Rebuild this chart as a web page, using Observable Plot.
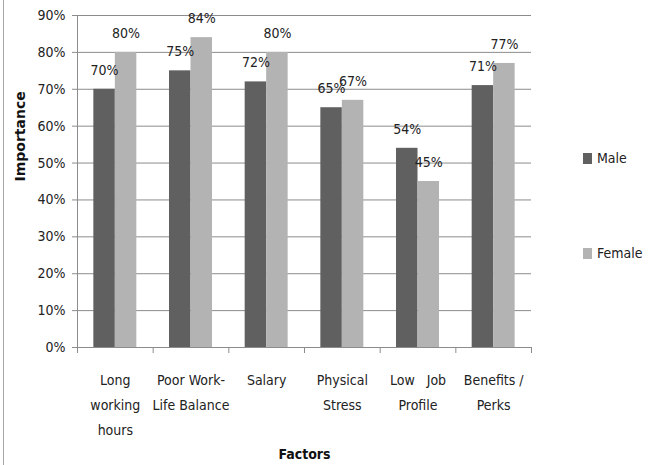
<!DOCTYPE html>
<html>
<head>
<meta charset="utf-8">
<script src="https://cdn.jsdelivr.net/npm/d3@7"></script>
<script src="https://cdn.jsdelivr.net/npm/@observablehq/plot@0.6"></script>
<style>
  html, body { margin: 0; padding: 0; background: #fff; }
  #wrap { position: relative; width: 655px; height: 465px; overflow: hidden; }
  #edge { position: absolute; left: 3px; top: 0; width: 1px; height: 465px; background: #a8a8a8; }
  .leg { position: absolute; left: 583px; font-family: "DejaVu Sans Condensed", "Liberation Sans", sans-serif; font-size: 14px; color: #222; display: flex; align-items: center; }
  .leg i { display: inline-block; width: 9px; height: 11px; margin-right: 5px; }
  g[aria-label="y-axis tick"], g[aria-label="x-axis tick"], .tick line { stroke: #8c8c8c; }
</style>
</head>
<body>
<div id="wrap"><div id="edge"></div></div>
<script>
const categories = ["Long\nworking\nhours", "Poor Work-\nLife Balance", "Salary", "Physical\nStress", "Low   Job\nProfile", "Benefits /\nPerks"];
const male = [70, 75, 72, 65, 54, 71];
const female = [80, 84, 80, 67, 45, 77];
const series = ["Male", "Female"];
const colors = ["#606060", "#b3b3b3"];
const yTicks = [0, 10, 20, 30, 40, 50, 60, 70, 80, 90];
const yTitle = "Importance";
const xTitle = "Factors";

const data = categories.map((c, i) => ({i, category: c, male: male[i], female: female[i]}));
const barW = 0.284;
const narrow = '"DejaVu Sans Condensed", "Liberation Sans", sans-serif';

const chart = Plot.plot({
  width: 655,
  height: 465,
  marginLeft: 77,
  marginRight: 124,
  marginTop: 15,
  marginBottom: 118,
  style: {fontFamily: narrow, fontSize: "14px", color: "#222", background: "#fff", overflow: "visible"},
  x: {domain: [0, categories.length], ticks: d3.range(categories.length + 1), tickFormat: () => "", tickSize: 6, label: null},
  y: {domain: [0, 90], ticks: yTicks, tickFormat: d => d + "%", tickSize: 5, tickPadding: 7, label: null},
  marks: [
    Plot.ruleY(yTicks, {stroke: "#8c8c8c", strokeWidth: 1}),
    Plot.rectY(data, {x1: d => d.i + 0.5 - barW, x2: d => d.i + 0.5, y: "male", fill: colors[0]}),
    Plot.rectY(data, {x1: d => d.i + 0.5, x2: d => d.i + 0.5 + barW, y: "female", fill: colors[1]}),
    Plot.ruleX([0], {stroke: "#8c8c8c"}),
    Plot.text(data, {x: d => d.i + 0.5 - barW / 2, y: "male", text: d => d.male + "%", dy: -19, fontSize: 14, fill: "#222"}),
    Plot.text(data, {x: d => d.i + 0.5 + barW / 2, y: "female", text: d => d.female + "%", dy: -19, fontSize: 14, fill: "#222"}),
    Plot.text(data, {x: d => d.i + 0.5, y: () => 0, text: "category", lineAnchor: "top", dy: 20, lineHeight: 1.78, fontSize: 14, fill: "#222"}),
    Plot.text([yTitle], {frameAnchor: "left", dx: -57, rotate: -90, text: d => d, fontFamily: "DejaVu Sans", fontWeight: "bold", fontSize: 14, fill: "#111"}),
    Plot.text([xTitle], {frameAnchor: "bottom", dy: 111, text: d => d, fontFamily: narrow, fontWeight: "bold", fontSize: 14, fill: "#111"})
  ]
});

const wrap = document.getElementById("wrap");
wrap.appendChild(chart);
const legTops = [158, 253];
series.forEach((s, k) => {
  const el = document.createElement("div");
  el.className = "leg";
  el.style.top = (legTops[k] - 10) + "px";
  el.style.height = "20px";
  el.innerHTML = `<i style="background:${colors[k]}"></i><span>${s}</span>`;
  wrap.appendChild(el);
});
</script>
</body>
</html>
